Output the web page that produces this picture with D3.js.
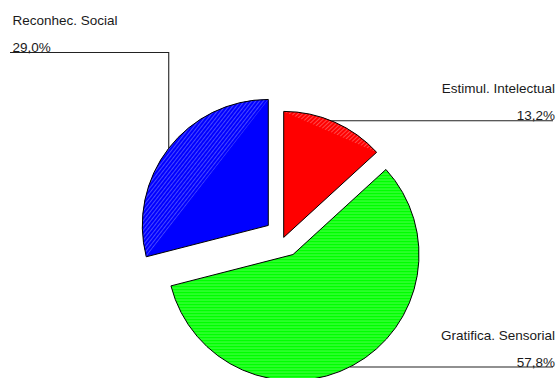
<!DOCTYPE html>
<html>
<head>
<meta charset="utf-8">
<script src="https://cdn.jsdelivr.net/npm/d3@7/dist/d3.min.js"></script>
<style>
  html, body { margin: 0; padding: 0; background: #fff; }
  svg { display: block; }
  text { font-family: "Liberation Sans", Arial, sans-serif; font-size: 13.5px; fill: #1a1a1a; }
</style>
</head>
<body>
<svg id="chart" width="558" height="378"></svg>
<script>
// Motivation shares (percent), drawn clockwise from 12 o'clock
const categories = ["Estimul. Intelectual", "Gratifica. Sensorial", "Reconhec. Social"];
const values = [13.2, 57.8, 29.0];
const colors = ["#ff0000", "#00ff00", "#0000ff"];
const streakColors = ["#ff4a4a", "#4dff4d", "#4848ff"];

// Layout
const W = 558, H = 378;
const cx = 283.7, cy = 237.4, R = 126;
const explode = [0, 19.5, 19.5];          // outward shift of each slice
const streakAngle = [-43, 0, -52];        // direction of the shading streaks (deg)
const streakWhole = [false, true, false]; // streak the whole slice or only its rim segment
const labelSide = ["right", "right", "left"];
const leaderY = [120.7, 367, 52.5];       // row of each label's leader line
const rightX = 555, leftX = 10;

const fmt = v => d3.format(".1f")(v).replace(".", ",") + "%";

const svg = d3.select("#chart");
const defs = svg.append("defs");

// Fine line textures for the shaded part of each slice
colors.forEach((c, i) => {
  const p = defs.append("pattern")
    .attr("id", "streak" + i)
    .attr("patternUnits", "userSpaceOnUse")
    .attr("width", 6).attr("height", 3)
    .attr("patternTransform", `rotate(${streakAngle[i]})`);
  p.append("rect").attr("width", 6).attr("height", 3).attr("fill", c);
  p.append("rect").attr("width", 6).attr("height", 1).attr("fill", streakColors[i]);
});

const pie = d3.pie().sort(null).value(d => d)(values);
const arc = d3.arc().innerRadius(0).outerRadius(R);

const slices = svg.append("g");

pie.forEach((p, i) => {
  const mid = (p.startAngle + p.endAngle) / 2;
  const ox = cx + explode[i] * Math.sin(mid);
  const oy = cy - explode[i] * Math.cos(mid);
  p.ox = ox; p.oy = oy; p.mid = mid;

  const g = slices.append("g").attr("transform", `translate(${ox},${oy})`);

  if (streakWhole[i]) {
    g.append("path")
      .attr("d", arc(p))
      .attr("fill", `url(#streak${i})`);
  } else {
    g.append("path")
      .attr("d", arc(p))
      .attr("fill", colors[i]);
    // circular segment between the slice's chord and its rim carries the streaks
    const seg = d3.path();
    seg.moveTo(R * Math.sin(p.startAngle), -R * Math.cos(p.startAngle));
    seg.arc(0, 0, R, p.startAngle - Math.PI / 2, p.endAngle - Math.PI / 2);
    seg.closePath();
    g.append("path")
      .attr("d", seg.toString())
      .attr("fill", `url(#streak${i})`);
  }

  g.append("path")
    .attr("d", arc(p))
    .attr("fill", "none")
    .attr("stroke", "#000")
    .attr("stroke-width", 1);
});

// Leader lines and labels
const lines = svg.append("g")
  .attr("fill", "none")
  .attr("stroke", "#222")
  .attr("stroke-width", 1.1);
const labels = svg.append("g");

pie.forEach((p, i) => {
  const y = leaderY[i];
  let pts;
  if (labelSide[i] === "right") {
    // start where the slice rim crosses the label row
    const dy = y - p.oy;
    const x0 = p.ox + Math.sqrt(Math.max(0, R * R - dy * dy));
    pts = [[x0, y], [rightX - 2, y]];
  } else {
    const ax = p.ox + R * Math.sin(p.mid);
    const ay = p.oy - R * Math.cos(p.mid);
    pts = [[ax, ay], [ax, y], [leftX, y]];
  }
  lines.append("path").attr("d", d3.line()(pts));

  const anchor = labelSide[i] === "right" ? "end" : "start";
  const tx = labelSide[i] === "right" ? rightX : leftX + 2.5;
  labels.append("text")
    .attr("x", tx).attr("y", y - 27.5)
    .attr("text-anchor", anchor)
    .text(categories[i]);
  labels.append("text")
    .attr("x", tx).attr("y", y - 0.5)
    .attr("text-anchor", anchor)
    .text(fmt(values[i]));
});
</script>
</body>
</html>
